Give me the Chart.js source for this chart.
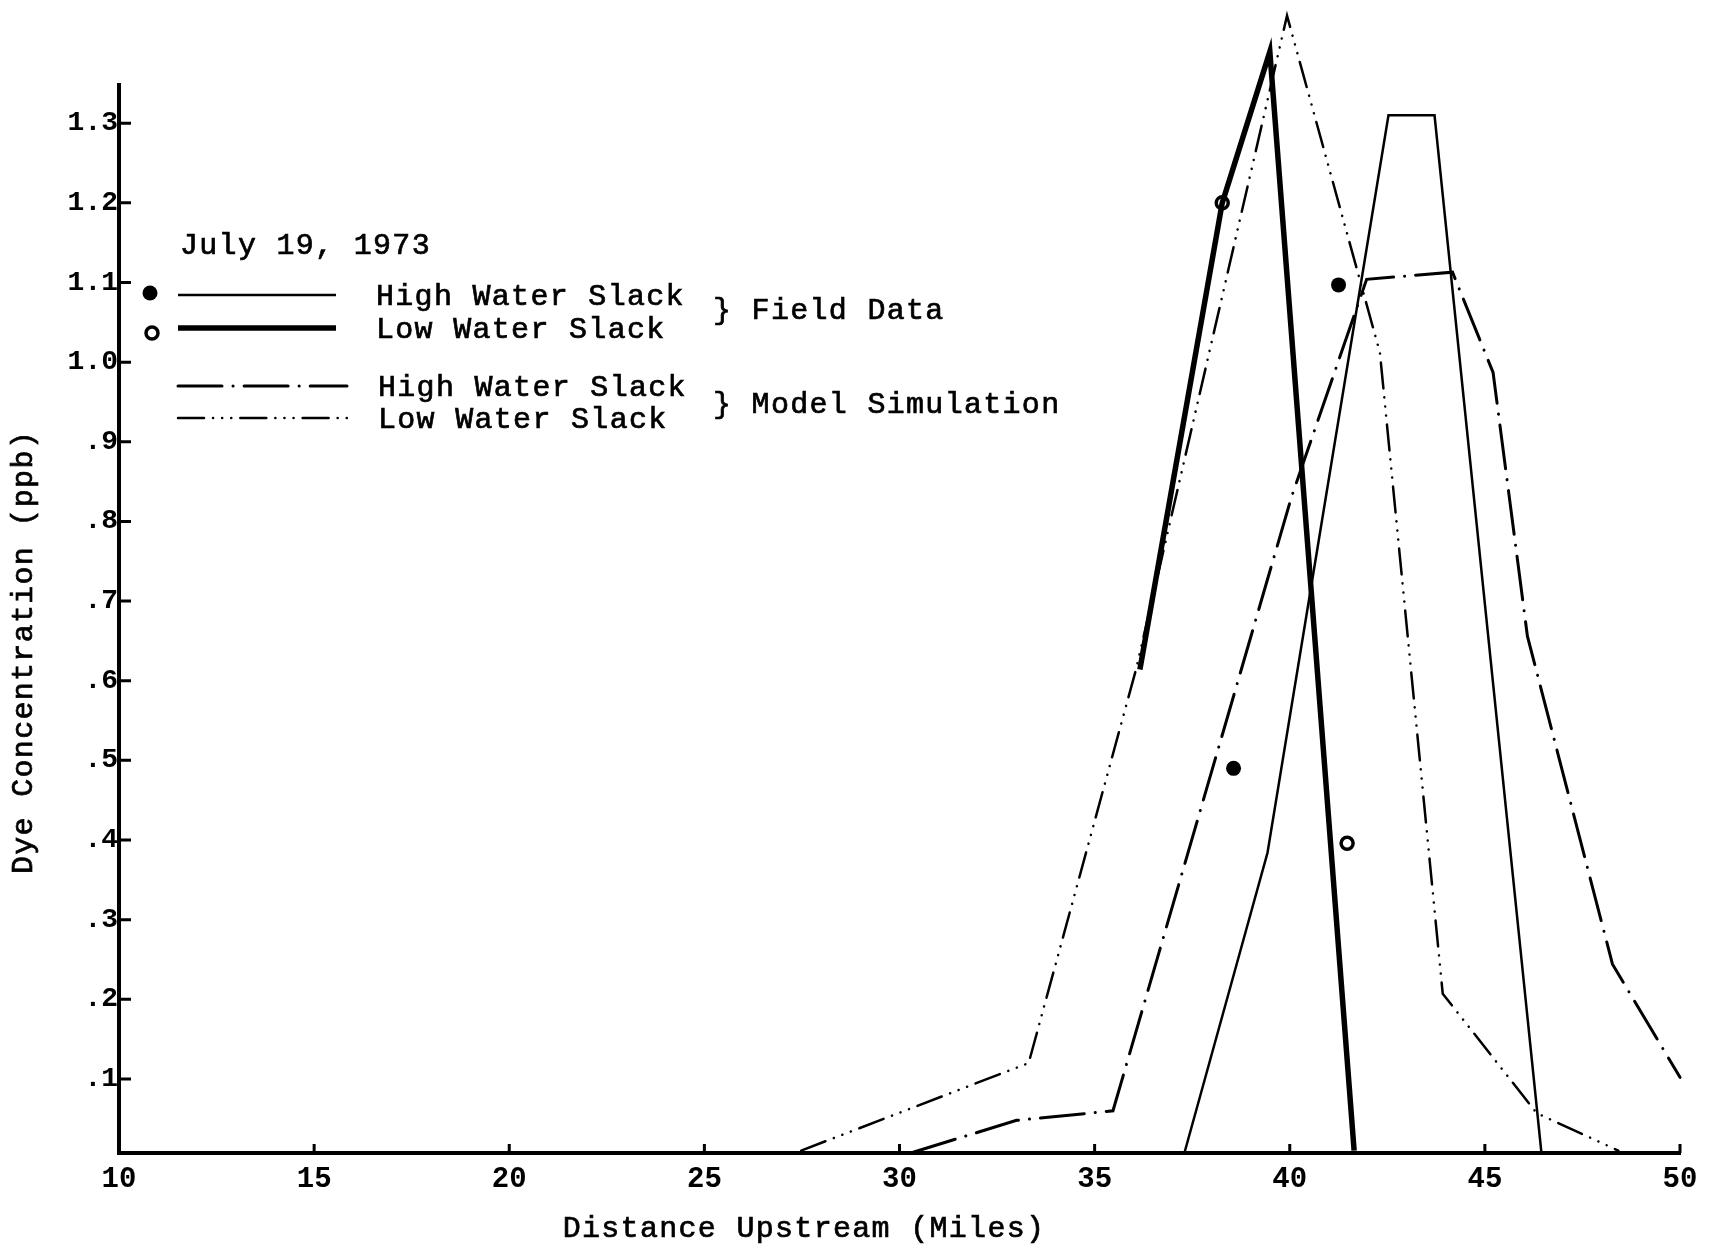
<!DOCTYPE html>
<html>
<head>
<meta charset="utf-8">
<script src="https://cdn.jsdelivr.net/npm/chart.js@4.4.0/dist/chart.umd.min.js"></script>
<style>
  html, body { margin: 0; padding: 0; background: #fff; }
</style>
</head>
<body>
<canvas id="dyeChart" width="1713" height="1249"></canvas>
<script>
// Distance upstream (miles) / dye concentration (ppb)
const fieldHighX = [37.3, 39.43, 42.53, 43.71, 46.45];
const fieldHighY = [0.007, 0.384, 1.31, 1.31, 0.007];

const fieldLowX = [36.16, 38.27, 39.49, 41.65];
const fieldLowY = [0.614, 1.20, 1.39, 0.01];

const modelHighX = [30.35, 33.0, 35.47, 40.04, 41.97, 44.17, 45.21, 46.09, 48.27, 50.0];
const modelHighY = [0.008, 0.048, 0.06, 0.83, 1.104, 1.113, 0.987, 0.656, 0.244, 0.102];

const modelLowX = [27.48, 33.31, 36.06, 39.93, 42.31, 43.92, 46.33, 48.42];
const modelLowY = [0.01, 0.12, 0.614, 1.435, 1.012, 0.207, 0.057, 0.01];

// measured field samples
const highDotsX = [38.56, 41.25];
const highDotsY = [0.49, 1.097];
const lowDotsX = [38.27, 41.47];
const lowDotsY = [1.20, 0.396];

const xTickValues = [10, 15, 20, 25, 30, 35, 40, 45, 50];
const yTickValues = [0.1, 0.2, 0.3, 0.4, 0.5, 0.6, 0.7, 0.8, 0.9, 1.0, 1.1, 1.2, 1.3];
const yTickLabels = ['.1', '.2', '.3', '.4', '.5', '.6', '.7', '.8', '.9', '1.0', '1.1', '1.2', '1.3'];

const legendDate = 'July 19, 1973';
const legendSeries = ['High Water Slack', 'Low Water Slack', 'High Water Slack', 'Low Water Slack'];
const legendGroups = ['} Field Data', '} Model Simulation'];
const xTitle = 'Distance Upstream (Miles)';
const yTitle = 'Dye Concentration (ppb)';

const FONT = '"Liberation Mono", "DejaVu Sans Mono", monospace';
const toPoints = (xs, ys) => xs.map((x, i) => ({ x: x, y: ys[i] }));

const dashHigh = [44, 11, 0.1, 11];
const dashLow = [26, 9, 0.1, 9, 0.1, 9, 0.1, 9];

// small tick marks pointing into the plot
const inwardTicks = {
    id: 'inwardTicks',
    beforeDatasetsDraw(chart) {
        const { ctx, chartArea, scales } = chart;
        ctx.save();
        ctx.strokeStyle = '#000';
        ctx.lineWidth = 3;
        ctx.beginPath();
        yTickValues.forEach(v => {
            const py = scales.y.getPixelForValue(v);
            ctx.moveTo(chartArea.left, py);
            ctx.lineTo(chartArea.left + 12, py);
        });
        xTickValues.slice(1).forEach(v => {
            const px = scales.x.getPixelForValue(v);
            ctx.moveTo(px, chartArea.bottom);
            ctx.lineTo(px, chartArea.bottom - 9);
        });
        ctx.stroke();
        ctx.restore();
    }
};

// typewriter-ish text: fill plus a thin stroke to thicken it
function typeText(ctx, str, x, y) {
    ctx.fillText(str, x, y);
    ctx.strokeText(str, x, y);
}

// axis titles and the hand-made key
const annotations = {
    id: 'annotations',
    afterDraw(chart) {
        const { ctx } = chart;
        const ds = chart.data.datasets;
        ctx.save();
        ctx.fillStyle = '#000';
        ctx.strokeStyle = '#000';
        ctx.font = '30px ' + FONT;
        ctx.letterSpacing = '1.3px';
        ctx.textBaseline = 'middle';
        ctx.lineWidth = 0.7;

        // axis titles
        ctx.textAlign = 'center';
        typeText(ctx, xTitle, 804, 1229);
        ctx.save();
        ctx.translate(24, 652);
        ctx.rotate(-Math.PI / 2);
        typeText(ctx, yTitle, 0, 0);
        ctx.restore();

        // key
        ctx.textAlign = 'left';
        typeText(ctx, legendDate, 180, 246);

        const rows = [
            { y: 295, text: 376, x2: 336, set: ds[0] },
            { y: 328, text: 376, x2: 336, set: ds[1] },
            { y: 386, text: 378, x2: 347, set: ds[2] },
            { y: 418, text: 378, x2: 347, set: ds[3] }
        ];
        rows.forEach((r, i) => {
            ctx.save();
            ctx.lineWidth = r.set.borderWidth;
            ctx.setLineDash(r.set.borderDash || []);
            ctx.lineCap = r.set.borderCapStyle || 'butt';
            ctx.beginPath();
            ctx.moveTo(178, r.y);
            ctx.lineTo(r.x2, r.y);
            ctx.stroke();
            ctx.restore();
            typeText(ctx, legendSeries[i], r.text, r.y + 2);
        });

        // field markers
        ctx.save();
        ctx.beginPath();
        ctx.arc(150, 293, ds[4].pointRadius, 0, Math.PI * 2);
        ctx.fill();
        ctx.beginPath();
        ctx.lineWidth = ds[5].borderWidth;
        ctx.arc(152, 333, ds[5].pointRadius, 0, Math.PI * 2);
        ctx.stroke();
        ctx.restore();

        typeText(ctx, legendGroups[0], 713, 311);
        typeText(ctx, legendGroups[1], 713, 405);
        ctx.restore();
    }
};

const ctx = document.getElementById('dyeChart').getContext('2d');
const dyeChart = new Chart(ctx, {
    type: 'scatter',
    data: {
        datasets: [
            {
                label: 'Field Data - High Water Slack',
                data: toPoints(fieldHighX, fieldHighY),
                showLine: true,
                borderColor: '#000',
                borderWidth: 2.5,
                pointRadius: 0,
                clip: false,
            },
            {
                label: 'Field Data - Low Water Slack',
                data: toPoints(fieldLowX, fieldLowY),
                showLine: true,
                borderColor: '#000',
                borderWidth: 5.5,
                pointRadius: 0,
                clip: false,
            },
            {
                label: 'Model Simulation - High Water Slack',
                data: toPoints(modelHighX, modelHighY),
                showLine: true,
                borderColor: '#000',
                borderWidth: 3,
                borderDash: dashHigh,
                borderCapStyle: 'round',
                pointRadius: 0,
                clip: false,
            },
            {
                label: 'Model Simulation - Low Water Slack',
                data: toPoints(modelLowX, modelLowY),
                showLine: true,
                borderColor: '#000',
                borderWidth: 2.5,
                borderDash: dashLow,
                borderCapStyle: 'round',
                pointRadius: 0,
                clip: false,
            },
            {
                label: 'Field samples - High Water Slack',
                data: toPoints(highDotsX, highDotsY),
                showLine: false,
                pointRadius: 7.5,
                pointBackgroundColor: '#000',
                pointBorderWidth: 0,
                clip: false,
            },
            {
                label: 'Field samples - Low Water Slack',
                data: toPoints(lowDotsX, lowDotsY),
                showLine: false,
                pointRadius: 6,
                borderWidth: 3.5,
                pointBorderColor: '#000',
                pointBackgroundColor: '#fff',
                clip: false,
            },
        ],
    },
    options: {
        responsive: false,
        animation: false,
        events: [],
        layout: { padding: { left: 0, right: 33, top: 85, bottom: 0 } },
        plugins: {
            legend: { display: false },
            tooltip: { enabled: false },
        },
        scales: {
            x: {
                type: 'linear',
                min: 10,
                max: 50,
                afterBuildTicks: (axis) => { axis.ticks = xTickValues.map(v => ({ value: v })); },
                afterFit: (axis) => { axis.height = 96; },
                grid: { display: false, drawTicks: false },
                border: { display: true, color: '#000', width: 4 },
                ticks: {
                    padding: 9,
                    color: '#000',
                    maxRotation: 0,
                    font: { family: FONT, size: 29, weight: 'bold' },
                    callback: (v) => String(v),
                },
            },
            y: {
                type: 'linear',
                min: 0.007,
                max: 1.348,
                afterBuildTicks: (axis) => { axis.ticks = yTickValues.map(v => ({ value: v })); },
                afterFit: (axis) => { axis.width = 119; },
                grid: { display: false, drawTicks: false },
                border: { display: true, color: '#000', width: 4 },
                ticks: {
                    padding: 1,
                    color: '#000',
                    font: { family: FONT, size: 28, weight: 'bold' },
                    callback: (v, i) => yTickLabels[i],
                },
            },
        },
    },
    plugins: [inwardTicks, annotations],
});
</script>
</body>
</html>
